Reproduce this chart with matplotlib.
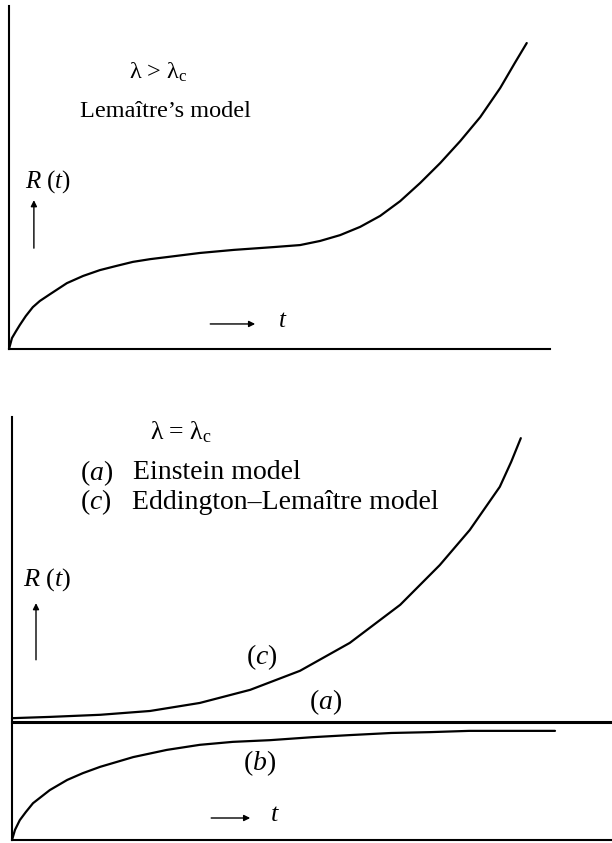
import matplotlib
matplotlib.use("Agg")
import matplotlib.pyplot as plt

plt.rcParams["font.family"] = ["Liberation Serif", "DejaVu Serif"]
plt.rcParams["mathtext.fontset"] = "custom"
plt.rcParams["mathtext.rm"] = "Liberation Serif"
plt.rcParams["mathtext.it"] = "Liberation Serif:italic"

# Lemaître's model (lambda > lambda_c)
lem_t = [0.0, 0.055, 0.13, 0.20, 0.31, 0.44, 0.57, 0.76, 1.07, 1.37, 1.68, 1.98,
         2.29, 2.61, 2.92, 3.53, 4.16, 4.88, 5.38, 5.75, 6.12, 6.49, 6.86, 7.23,
         7.60, 7.97, 8.34, 8.71, 9.08, 9.35, 9.57]
lem_R = [0.0, 0.32, 0.52, 0.70, 0.96, 1.22, 1.40, 1.60, 1.92, 2.13, 2.30, 2.42,
         2.54, 2.62, 2.68, 2.80, 2.89, 2.97, 3.03, 3.15, 3.32, 3.56, 3.88, 4.31,
         4.84, 5.42, 6.06, 6.76, 7.61, 8.34, 8.92]

# lambda = lambda_c: (a) Einstein static, (b) approaching it, (c) Eddington-Lemaître
ein_t = [0.0, 10.0]
ein_R = [2.79, 2.79]
ed_t = [0.0, 0.63, 1.47, 2.30, 3.13, 3.97, 4.80, 5.63, 6.47, 7.13, 7.63, 8.13,
        8.32, 8.48]
ed_R = [2.88, 2.91, 2.96, 3.05, 3.24, 3.55, 4.00, 4.66, 5.56, 6.50, 7.33, 8.35,
        8.94, 9.50]
b_t = [0.0, 0.05, 0.13, 0.23, 0.35, 0.63, 0.92, 1.18, 1.47, 2.02, 2.58, 3.13,
       3.68, 4.30, 5.00, 5.63, 6.32, 6.97, 7.62, 9.05]
b_R = [0.0, 0.24, 0.47, 0.66, 0.87, 1.18, 1.42, 1.58, 1.73, 1.96, 2.13, 2.25,
       2.32, 2.36, 2.43, 2.48, 2.53, 2.55, 2.58, 2.58]

fig = plt.figure(figsize=(6.12, 8.43), dpi=100)
ax1 = fig.add_axes([9 / 612, 1 - 349 / 843, 541 / 612, 343 / 843])
ax2 = fig.add_axes([12 / 612, 1 - 840 / 843, 600 / 612, 423 / 843])

for ax in (ax1, ax2):
    ax.set_xlim(0, 10)
    ax.set_ylim(0, 10)
    for side in ("top", "right"):
        ax.spines[side].set_visible(False)
    for side in ("left", "bottom"):
        ax.spines[side].set_linewidth(1.5)
    ax.set_xticks([])
    ax.set_yticks([])
    ax.patch.set_visible(False)

arrow = dict(arrowstyle="-|>", lw=1.0, color="black", mutation_scale=9,
             shrinkA=0, shrinkB=0)
curve = dict(color="black", lw=1.6, solid_capstyle="round",
             solid_joinstyle="round", clip_on=False)

# top panel
ax1.plot(lem_t, lem_R, **curve)
fs1 = 17.5
ax1.text(2.22, 8.08, "λ > λ$_\\mathregular{c}$", fontsize=fs1, va="center")
ax1.text(1.31, 6.91, "Lemaître’s model", fontsize=fs1, va="center")
ax1.text(0.30, 4.87, "$R\\ (t)$", fontsize=18, va="center")
ax1.annotate("", xy=(0.46, 4.34), xytext=(0.46, 2.94), arrowprops=arrow)
ax1.annotate("", xy=(4.55, 0.73), xytext=(3.72, 0.73), arrowprops=arrow)
ax1.text(4.97, 0.82, "$t$", fontsize=18, va="center")

# bottom panel
ax2.plot(ein_t, ein_R, color="black", lw=2.2, clip_on=False)
ax2.plot(ed_t, ed_R, **curve)
ax2.plot(b_t, b_R, **curve)
fs2 = 20
ax2.text(2.30, 9.65, "λ = λ$_\\mathregular{c}$", fontsize=18.5, va="center")
ax2.text(1.13, 8.68, "($a$)", fontsize=fs2, va="center")
ax2.text(2.02, 8.68, "Einstein model", fontsize=fs2, va="center")
ax2.text(1.13, 7.99, "($c$)", fontsize=fs2, va="center")
ax2.text(2.00, 7.99, "Eddington–Lemaître model", fontsize=fs2, va="center")
ax2.text(0.18, 6.15, "$R\\ (t)$", fontsize=19, va="center")
ax2.annotate("", xy=(0.40, 5.60), xytext=(0.40, 4.26), arrowprops=arrow)
ax2.text(4.17, 4.33, "($c$)", fontsize=fs2, ha="center", va="center")
ax2.text(5.22, 3.26, "($a$)", fontsize=fs2, ha="center", va="center")
ax2.text(4.13, 1.82, "($b$)", fontsize=fs2, ha="center", va="center")
ax2.annotate("", xy=(3.97, 0.52), xytext=(3.32, 0.52), arrowprops=arrow)
ax2.text(4.30, 0.59, "$t$", fontsize=19, va="center")

fig.savefig("out.png", dpi=100, facecolor="white")
